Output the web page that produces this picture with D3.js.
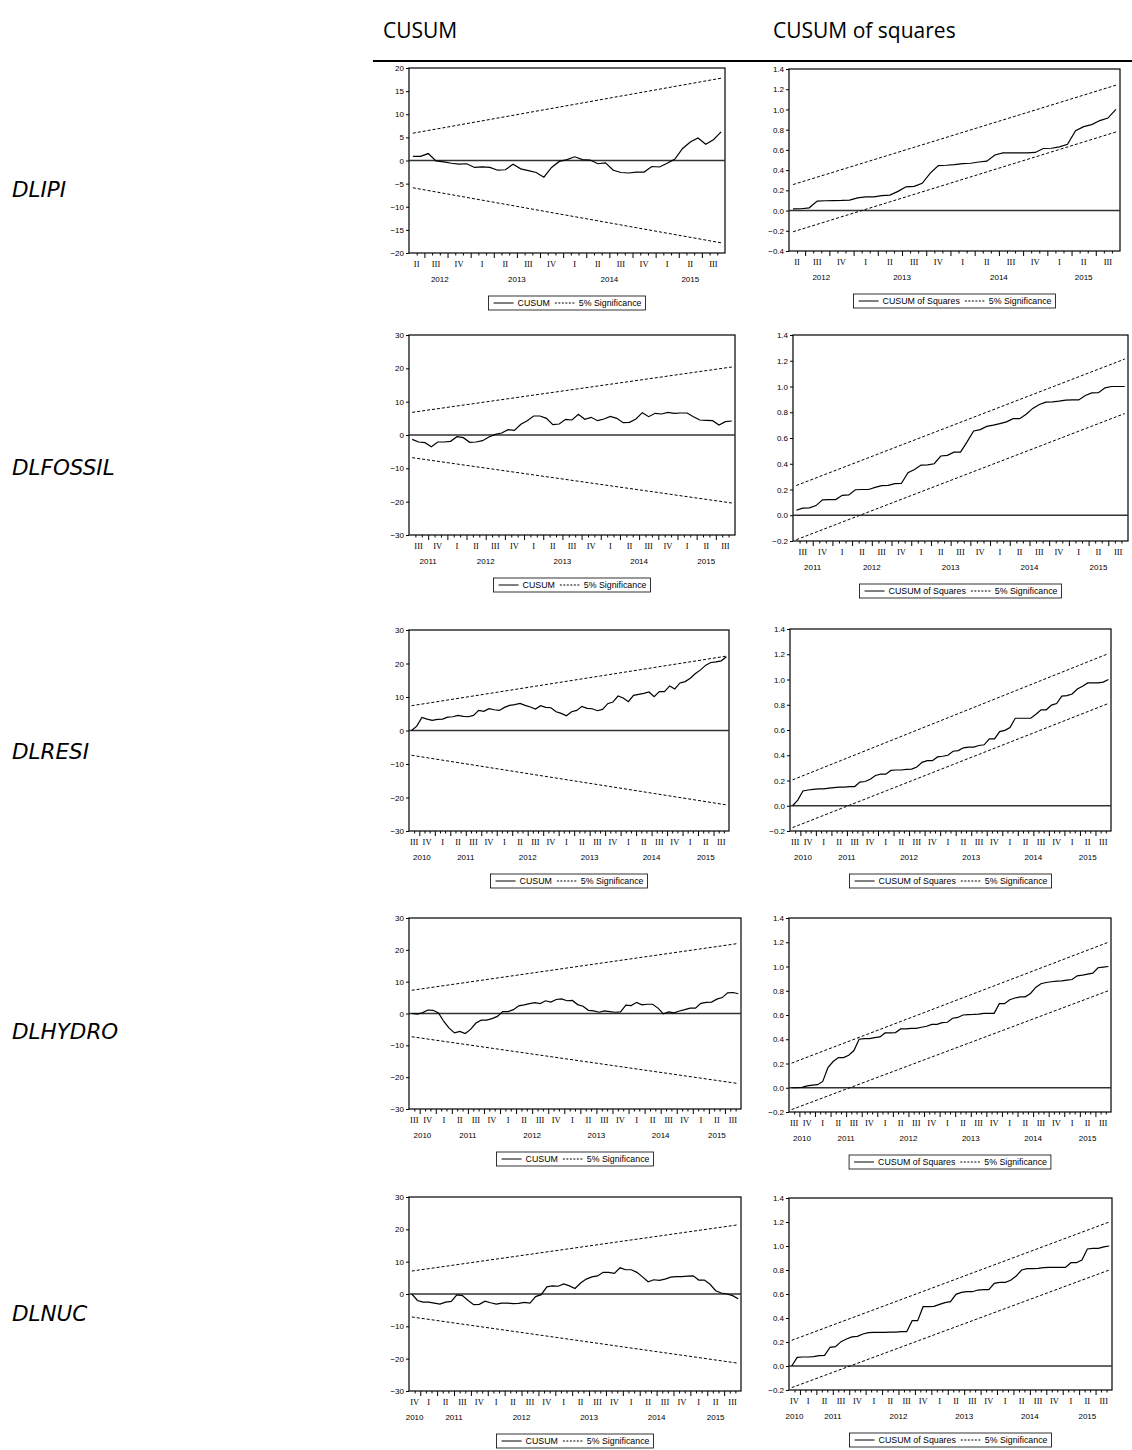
<!DOCTYPE html>
<html>
<head>
<meta charset="utf-8">
<script src="https://cdn.jsdelivr.net/npm/d3@7"></script>
<style>
	body { margin: 0; background: #fff; }
	svg text { fill: #000; }
	.grey-aa { opacity: 0.99; }
</style>
</head>
<body>
<svg id="chart" width="1132" height="1450"></svg>
<script>
/**
 * Data
 * */

const rowLabels = ['DLIPI', 'DLFOSSIL', 'DLRESI', 'DLHYDRO', 'DLNUC']
const columnTitles = ['CUSUM', 'CUSUM of squares']

// first month of each recursive sample
const startMonths = ['2012-05', '2011-07', '2010-08', '2010-08', '2010-11']

const cusumIPI = [0.9, 0.9, 1.5, -0.1, -0.3, -0.6, -0.8, -0.7, -1.5, -1.4, -1.5, -2.1, -2.0, -0.8, -1.8, -2.2, -2.6, -3.6, -1.5, -0.2, 0.2, 0.8, 0.2, 0.1, -0.7, -0.5, -2.1, -2.6, -2.7, -2.5, -2.5, -1.3, -1.4, -0.6, 0.3, 2.6, 4.0, 4.85, 3.5, 4.5, 6.2]
const cusumFossil = [-1.3, -2.1, -2.3, -3.5, -2.1, -2.1, -1.9, -0.5, -0.8, -2.2, -2.1, -1.7, -0.6, 0.2, 0.6, 1.6, 1.4, 3.2, 4.3, 5.7, 5.7, 5.0, 3.1, 3.3, 4.7, 4.5, 6.2, 4.7, 5.3, 4.3, 4.8, 5.6, 5.0, 3.7, 3.8, 4.8, 6.7, 5.5, 6.5, 6.3, 6.8, 6.5, 6.6, 6.6, 5.5, 4.5, 4.4, 4.3, 3.0, 4.0, 4.2]
const cusumResi = [0, 1.3, 3.9, 3.4, 3.0, 3.3, 3.4, 4.0, 4.1, 4.5, 4.2, 4.1, 4.5, 6.0, 5.7, 6.5, 6.2, 6.0, 6.9, 7.5, 7.7, 8.1, 7.5, 7.0, 6.4, 7.4, 6.9, 6.8, 5.6, 5.1, 4.4, 5.6, 6.0, 7.2, 6.6, 6.5, 5.9, 6.3, 8.0, 8.5, 10.3, 9.7, 8.6, 10.5, 10.8, 11.1, 11.5, 10.1, 11.6, 11.6, 13.3, 12.4, 14.2, 14.6, 15.6, 17.0, 18.1, 19.5, 20.3, 20.5, 20.8, 22.0]
const cusumHydro = [0, -0.2, 0.2, 1.1, 1.0, 0.2, -2.5, -4.6, -6.1, -5.6, -6.3, -5.0, -3.0, -2.1, -2.1, -1.6, -0.9, 0.6, 0.6, 1.2, 2.4, 2.7, 3.1, 3.4, 3.1, 4.0, 3.6, 4.4, 4.6, 4.0, 4.1, 2.8, 2.3, 1.0, 0.8, 0.4, 0.8, 0.6, 0.4, 0.5, 2.6, 2.5, 3.5, 2.7, 2.9, 2.9, 1.7, -0.1, 0.5, 0.2, 0.8, 1.2, 1.7, 1.7, 3.2, 3.5, 3.6, 4.5, 5.0, 6.5, 6.6, 6.2]
const cusumNuc = [0, -2.0, -2.5, -2.5, -2.8, -3.1, -2.5, -2.3, -0.3, -0.5, -2.0, -3.3, -3.2, -2.2, -2.7, -3.1, -2.8, -2.8, -3.0, -2.9, -2.6, -2.8, -0.8, -0.2, 2.2, 2.5, 2.4, 3.1, 2.5, 1.7, 3.4, 4.6, 5.3, 5.6, 6.7, 6.7, 6.4, 8.1, 7.5, 7.5, 6.7, 5.3, 3.8, 4.4, 4.2, 4.6, 5.2, 5.4, 5.4, 5.5, 5.6, 4.3, 4.3, 3.0, 1.0, 0.3, 0.0, -0.5, -1.5]

const cusumsqIPI = [0.017, 0.018, 0.027, 0.093, 0.097, 0.099, 0.1, 0.103, 0.125, 0.135, 0.136, 0.148, 0.153, 0.19, 0.235, 0.24, 0.27, 0.37, 0.445, 0.448, 0.455, 0.465, 0.468, 0.48, 0.488, 0.55, 0.57, 0.57, 0.57, 0.57, 0.575, 0.614, 0.616, 0.63, 0.655, 0.79, 0.83, 0.85, 0.89, 0.915, 1.0]
const cusumsqFossil = [0.039, 0.055, 0.057, 0.075, 0.12, 0.122, 0.122, 0.155, 0.158, 0.198, 0.2, 0.2, 0.216, 0.23, 0.232, 0.245, 0.247, 0.33, 0.355, 0.39, 0.392, 0.4, 0.46, 0.465, 0.49, 0.49, 0.57, 0.655, 0.665, 0.69, 0.7, 0.712, 0.725, 0.75, 0.75, 0.785, 0.83, 0.86, 0.878, 0.88, 0.886, 0.894, 0.896, 0.896, 0.93, 0.95, 0.952, 0.99, 1.0, 1.0, 1.0]
const cusumsqResi = [0, 0.045, 0.117, 0.125, 0.13, 0.133, 0.133, 0.139, 0.144, 0.147, 0.147, 0.152, 0.152, 0.187, 0.192, 0.21, 0.24, 0.25, 0.25, 0.28, 0.283, 0.283, 0.288, 0.29, 0.307, 0.344, 0.357, 0.357, 0.387, 0.392, 0.4, 0.432, 0.437, 0.459, 0.464, 0.464, 0.477, 0.483, 0.53, 0.53, 0.587, 0.597, 0.619, 0.693, 0.693, 0.693, 0.693, 0.725, 0.76, 0.76, 0.797, 0.81, 0.869, 0.872, 0.885, 0.925, 0.947, 0.973, 0.973, 0.973, 0.979, 1.0]
const cusumsqHydro = [0, 0, 0.003, 0.016, 0.022, 0.025, 0.052, 0.167, 0.216, 0.249, 0.249, 0.268, 0.307, 0.4, 0.405, 0.405, 0.414, 0.419, 0.452, 0.452, 0.455, 0.485, 0.485, 0.49, 0.49, 0.499, 0.507, 0.523, 0.523, 0.537, 0.54, 0.573, 0.58, 0.6, 0.603, 0.605, 0.608, 0.614, 0.614, 0.614, 0.693, 0.693, 0.726, 0.74, 0.75, 0.75, 0.778, 0.827, 0.858, 0.868, 0.874, 0.879, 0.882, 0.888, 0.893, 0.923, 0.929, 0.937, 0.945, 0.99, 0.995, 1.0]
const cusumsqNuc = [0, 0.072, 0.075, 0.075, 0.078, 0.086, 0.089, 0.156, 0.161, 0.203, 0.225, 0.242, 0.247, 0.267, 0.278, 0.28, 0.28, 0.28, 0.283, 0.283, 0.286, 0.286, 0.378, 0.378, 0.494, 0.494, 0.497, 0.514, 0.528, 0.536, 0.597, 0.614, 0.619, 0.619, 0.633, 0.636, 0.636, 0.689, 0.697, 0.697, 0.714, 0.75, 0.8, 0.811, 0.811, 0.814, 0.819, 0.822, 0.822, 0.822, 0.822, 0.861, 0.861, 0.883, 0.975, 0.98, 0.98, 0.992, 1.0]

// 5% bands: cusum upper bound at first / last obs (lower is the mirror)
const cusumBandStart = [5.9, 6.8, 7.4, 7.3, 7.1]
const cusumBandEnd = [17.8, 20.4, 22.2, 22.0, 21.4]

// cusum of squares bands
const sqBandUpperStart = [0.257, 0.231, 0.205, 0.203, 0.214]
const sqBandUpperEnd = [1.24, 1.213, 1.205, 1.2, 1.2]
const sqBandLowerStart = [-0.21, -0.19, -0.173, -0.18, -0.18]
const sqBandLowerEnd = [0.777, 0.79, 0.81, 0.80, 0.80]

// y axis ticks
const cusumTicksRow1 = [-20, -15, -10, -5, 0, 5, 10, 15, 20]
const cusumTicks = [-30, -20, -10, 0, 10, 20, 30]
const sqTicksRow1 = [-0.4, -0.2, 0.0, 0.2, 0.4, 0.6, 0.8, 1.0, 1.2, 1.4]
const sqTicks = [-0.2, 0.0, 0.2, 0.4, 0.6, 0.8, 1.0, 1.2, 1.4]

const quarterNames = ['I', 'II', 'III', 'IV']

const cusumSeries = [cusumIPI, cusumFossil, cusumResi, cusumHydro, cusumNuc]
const sqSeries = [cusumsqIPI, cusumsqFossil, cusumsqResi, cusumsqHydro, cusumsqNuc]


/**
 * Layout
 * */

// plot boxes, one per row [cusum, squares]
const boxes = [
	[{l: 409, r: 725, t: 68, b: 253}, {l: 789, r: 1120, t: 69, b: 251}],
	[{l: 409, r: 735, t: 335, b: 535}, {l: 793, r: 1128, t: 335, b: 541}],
	[{l: 409, r: 729, t: 630, b: 831}, {l: 790, r: 1111, t: 629, b: 831}],
	[{l: 409, r: 741, t: 918, b: 1109}, {l: 789, r: 1111, t: 918, b: 1112}],
	[{l: 409, r: 741, t: 1197, b: 1391}, {l: 789, r: 1112, t: 1198, b: 1390}]
]
const rowLabelY = [189, 467, 751, 1031, 1313]

const tickFont = 'Arial, "Liberation Sans", sans-serif'
const romanFont = '"Times New Roman", "Liberation Serif", serif'

const svg = d3.select('#chart')

// column titles and rule under them
svg.selectAll('.coltitle')
	.data(columnTitles)
	.join('text')
		.attr('class', 'coltitle')
		.attr('x', (d, i) => i ? 773 : 383)
		.attr('y', 38)
		.attr('font-family', '"Open Sans", sans-serif')
		.attr('font-size', 21)
		.text(d => d)

svg.append('line')
	.attr('x1', 373).attr('x2', 1132)
	.attr('y1', 61).attr('y2', 61)
	.attr('stroke', '#000')
	.attr('stroke-width', 2)

svg.selectAll('.rowlabel')
	.data(rowLabels)
	.join('text')
		.attr('class', 'rowlabel')
		.attr('x', 12)
		.attr('y', (d, i) => rowLabelY[i])
		.attr('dy', '0.35em')
		.attr('font-family', '"DejaVu Sans", sans-serif')
		.attr('font-style', 'italic')
		.attr('font-size', 21.5)
		.text(d => d)


/**
 * Drawing one panel
 * */

const monthList = (start, n) => {
	const [yy, mm] = start.split('-').map(Number)
	return d3.range(n).map(i => {
		const m = mm - 1 + i
		return {year: yy + Math.floor(m / 12), month: m % 12}
	})
}

const drawPanel = (box, values, start, yTicks, bands, legendName, fmt) => {

	const n = values.length
	const months = monthList(start, n)

	const x = d3.scaleLinear()
		.domain([-0.5, n - 0.5])
		.range([box.l, box.r])

	const y = d3.scaleLinear()
		.domain([yTicks[0], yTicks[yTicks.length - 1]])
		.range([box.b, box.t])

	const g = svg.append('g')

	// frame
	g.append('rect')
		.attr('x', box.l).attr('y', box.t)
		.attr('width', box.r - box.l).attr('height', box.b - box.t)
		.attr('fill', 'none')
		.attr('stroke', '#000')
		.attr('stroke-width', 1.2)

	// zero line
	g.append('line')
		.attr('x1', box.l).attr('x2', box.r)
		.attr('y1', y(0)).attr('y2', y(0))
		.attr('stroke', '#333')
		.attr('stroke-width', 1.4)

	// 5% significance lines
	g.selectAll('.band')
		.data(bands)
		.join('line')
			.attr('x1', x(0)).attr('x2', x(n - 1))
			.attr('y1', d => y(d[0])).attr('y2', d => y(d[1]))
			.attr('stroke', '#000')
			.attr('stroke-width', 1)
			.attr('stroke-dasharray', '3,2')

	// the statistic
	g.append('path')
		.datum(values)
		.attr('d', d3.line().x((d, i) => x(i)).y(d => y(d)))
		.attr('fill', 'none')
		.attr('stroke', '#000')
		.attr('stroke-width', 1.2)

	// y axis
	g.append('g')
		.attr('transform', `translate(${box.l},0)`)
		.call(d3.axisLeft(y).tickValues(yTicks).tickSize(3).tickFormat(fmt))
		.call(a => a.select('.domain').remove())
		.call(a => a.selectAll('text').attr('font-family', tickFont).attr('font-size', 8).attr('dx', 1))

	// x axis: minor tick between every month, long tick at quarter starts
	const bounds = d3.range(1, n)
	const minor = bounds.filter(i => months[i].month % 3 != 0)
	const major = bounds.filter(i => months[i].month % 3 == 0)

	const xAxis = (vals, size) => g.append('g')
		.attr('transform', `translate(0,${box.b})`)
		.call(d3.axisBottom(x).tickValues(vals.map(i => i - 0.5)).tickSize(size).tickFormat(''))
		.call(a => a.select('.domain').remove())

	xAxis(minor, 2.5)
	xAxis(major, 5)

	// quarter and year labels, centred on their months
	const quarters = d3.groups(d3.range(n), i => `${months[i].year}-${Math.floor(months[i].month / 3)}`)
	const years = d3.groups(d3.range(n), i => months[i].year)

	g.selectAll('.qlab')
		.data(quarters)
		.join('text')
			.attr('class', 'grey-aa')
			.attr('x', d => x(d3.mean(d[1])))
			.attr('y', box.b + 14)
			.attr('text-anchor', 'middle')
			.attr('font-family', romanFont)
			.attr('font-size', 8.5)
			.text(d => quarterNames[+d[0].split('-')[1]])

	g.selectAll('.ylab')
		.data(years)
		.join('text')
			.attr('x', d => x(d3.mean(d[1])))
			.attr('y', box.b + 29)
			.attr('text-anchor', 'middle')
			.attr('font-family', tickFont)
			.attr('font-size', 8)
			.text(d => d[0])

	// legend
	const lg = g.append('g')
	const cx = (box.l + box.r) / 2
	const ly = box.b + 50
	const parts = [
		{type: 'solid', len: 20},
		{type: 'text', text: legendName},
		{type: 'dash', len: 20},
		{type: 'text', text: '5% Significance'}
	]
	let pos = 0
	parts.forEach(p => {
		if (p.type == 'text') {
			const t = lg.append('text')
				.attr('x', pos).attr('y', ly)
				.attr('dy', '0.35em')
				.attr('font-family', tickFont)
				.attr('font-size', 8.8)
				.text(p.text)
			pos += t.node().getComputedTextLength() + 5
		}
		else {
			lg.append('line')
				.attr('x1', pos).attr('x2', pos + p.len)
				.attr('y1', ly).attr('y2', ly)
				.attr('stroke', '#000')
				.attr('stroke-dasharray', p.type == 'dash' ? '2,1.5' : null)
			pos += p.len + 4
		}
	})
	const lw = pos + 2
	lg.attr('transform', `translate(${cx - lw / 2 + 4},0)`)
	lg.insert('rect', ':first-child')
		.attr('x', -5).attr('y', ly - 7)
		.attr('width', lw + 2).attr('height', 14)
		.attr('fill', '#fff')
		.attr('stroke', '#000')
		.attr('stroke-width', 0.8)

}


/**
 * Build all ten panels
 * */

rowLabels.forEach((label, r) => {

	drawPanel(
		boxes[r][0],
		cusumSeries[r],
		startMonths[r],
		r == 0 ? cusumTicksRow1 : cusumTicks,
		[[cusumBandStart[r], cusumBandEnd[r]], [-cusumBandStart[r], -cusumBandEnd[r]]],
		'CUSUM',
		d3.format('d')
	)

	drawPanel(
		boxes[r][1],
		sqSeries[r],
		startMonths[r],
		r == 0 ? sqTicksRow1 : sqTicks,
		[[sqBandUpperStart[r], sqBandUpperEnd[r]], [sqBandLowerStart[r], sqBandLowerEnd[r]]],
		'CUSUM of Squares',
		d3.format('.1f')
	)

})
</script>
</body>
</html>
